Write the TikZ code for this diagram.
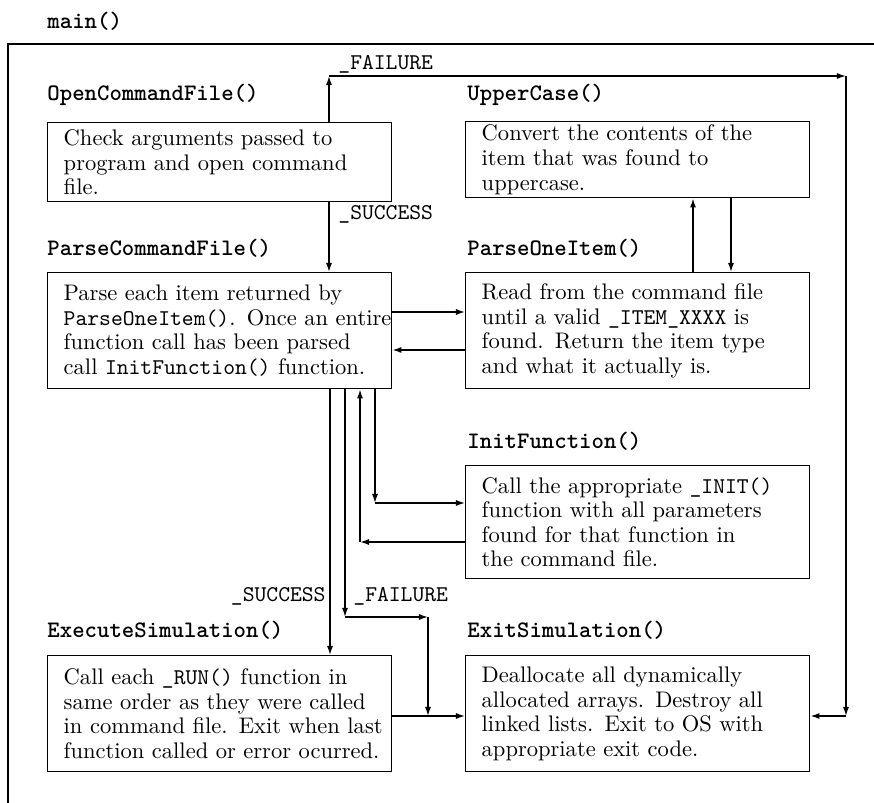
\documentclass[tikz,border=0pt]{standalone}
\usetikzlibrary{arrows.meta}
\newlength\pxu
\setlength\pxu{0.444pt}
\newcommand\bxt[1]{\leftskip=16\pxu\rightskip=-24\pxu plus 1fil\relax #1\par}
\tikzset{
  frameline/.style={line width=0.65pt},
  pbox/.style={draw, line width=0.65pt, anchor=north west, inner xsep=0pt, inner ysep=0pt,
    text width=344\pxu, align=left, font=\fontsize{10}{10.9}\selectfont},
  hd/.style={anchor=base west, inner sep=0pt, font=\fontsize{10.5}{12}\selectfont\ttfamily\bfseries},
  lab/.style={inner sep=0pt, font=\fontsize{10}{12}\selectfont\ttfamily},
  arr/.style={line width=0.65pt, -{Latex[length=4pt,width=2.7pt]}},
  ln/.style={line width=0.65pt}
}
\begin{document}
\begin{tikzpicture}[x=0.444pt, y=-0.444pt]
\useasboundingbox (0,0) rectangle (874,803);
% frame
\coordinate (frTR) at (874,44);
\coordinate (frTL) at (8,44);
\coordinate (frBL) at (8,803);
\draw[frameline] (frTR) -- (frTL) -- (frBL);
\node[hd] (tmain) at (47,29) {main()};

% headings
\node[hd] (hopen) at (47,100) {OpenCommandFile()};
\node[hd] (huc) at (467,100) {UpperCase()};
\node[hd] (hpcf) at (47,255) {ParseCommandFile()};
\node[hd] (hpoi) at (467,255) {ParseOneItem()};
\node[hd] (hinit) at (467,448) {InitFunction()};
\node[hd] (hexec) at (47,637) {ExecuteSimulation()};
\node[hd] (hexit) at (467,637) {ExitSimulation()};

% boxes
\node[pbox, minimum height=79\pxu] (open) at (47,122)
  {\bxt{Check arguments passed to\\program and open command\\file.}};
\node[pbox, minimum height=76\pxu] (uc) at (465,121)
  {\bxt{Convert the contents of the\\item that was found to\\uppercase.}};
\node[pbox, minimum height=116\pxu] (pcf) at (47,272)
  {\bxt{Parse each item returned by\\\texttt{ParseOneItem()}. Once an entire\\function call has been parsed\\call \texttt{InitFunction()} function.}};
\node[pbox, minimum height=116\pxu] (poi) at (465,272)
  {\bxt{Read from the command file\\until a valid \texttt{\_ITEM\_XXXX} is\\found. Return the item type\\and what it actually is.}};
\node[pbox, minimum height=113\pxu] (init) at (465,465)
  {\bxt{Call the appropriate \texttt{\_INIT()}\\function with all parameters\\found for that function in\\the command file.}};
\node[pbox, minimum height=116\pxu] (exec) at (47,655)
  {\bxt{Call each \texttt{\_RUN()} function in\\same order as they were called\\in command file. Exit when last\\function called or error ocurred.}};
\node[pbox, minimum height=116\pxu] (exit) at (465,655)
  {\bxt{Deallocate all dynamically\\allocated arrays. Destroy all\\linked lists. Exit to OS with\\appropriate exit code.}};

% labels
\node[lab, anchor=base west] (lfail1) at (338,70) {\_FAILURE};
\node[lab, anchor=base west] (lsucc1) at (338,219) {\_SUCCESS};
\node[lab, anchor=base east] (lsucc2) at (326,601) {\_SUCCESS};
\node[lab, anchor=base west] (lfail2) at (353,601) {\_FAILURE};

% helper coordinates
\coordinate (cA) at (329,0);
\coordinate (fTL) at (329,76);
\coordinate (fTR) at (846,76);
\coordinate (fBR) at (846,716);
\coordinate (yA) at (0,312);
\coordinate (yB) at (0,350);
\coordinate (xU) at (693,0);
\coordinate (xD) at (731,0);
\coordinate (xS) at (330,0);
\coordinate (xF) at (345,0);
\coordinate (xR) at (360,0);
\coordinate (xI) at (375,0);
\coordinate (cI1) at (375,503);
\coordinate (cI2) at (360,542);
\coordinate (cF1) at (345,617);
\coordinate (cF2) at (428,617);
\coordinate (jn) at (428,716);

% OpenCommandFile -> ParseCommandFile (_SUCCESS)
\draw[arr] (open.south -| cA) -- (pcf.north -| cA);
% OpenCommandFile -> ExitSimulation (_FAILURE)
\draw[arr] (open.north -| cA) -- (fTL);
\draw[arr] (fTL) -- (fTR);
\draw[arr] (fTR) -- (fBR);
\draw[arr] (fBR) -- (exit.east |- fBR);
% ParseCommandFile <-> ParseOneItem
\draw[arr] (pcf.east |- yA) -- (poi.west |- yA);
\draw[arr] (poi.west |- yB) -- (pcf.east |- yB);
% ParseOneItem <-> UpperCase
\draw[arr] (poi.north -| xU) -- (uc.south -| xU);
\draw[arr] (uc.south -| xD) -- (poi.north -| xD);
% ParseCommandFile <-> InitFunction
\draw[arr] (pcf.south -| xI) -- (cI1);
\draw[arr] (cI1) -- (init.west |- cI1);
\draw[arr] (init.west |- cI2) -- (cI2);
\draw[arr] (cI2) -- (pcf.south -| xR);
% ParseCommandFile -> ExecuteSimulation (_SUCCESS)
\draw[arr] (pcf.south -| xS) -- (exec.north -| xS);
% ParseCommandFile -> ExitSimulation (_FAILURE)
\draw[arr] (pcf.south -| xF) -- (cF1);
\draw[arr] (cF1) -- (cF2);
\draw[arr] (cF2) -- (jn);
% ExecuteSimulation -> ExitSimulation
\draw[arr] (exec.east |- jn) -- (exit.west |- jn);
\end{tikzpicture}
\end{document}
